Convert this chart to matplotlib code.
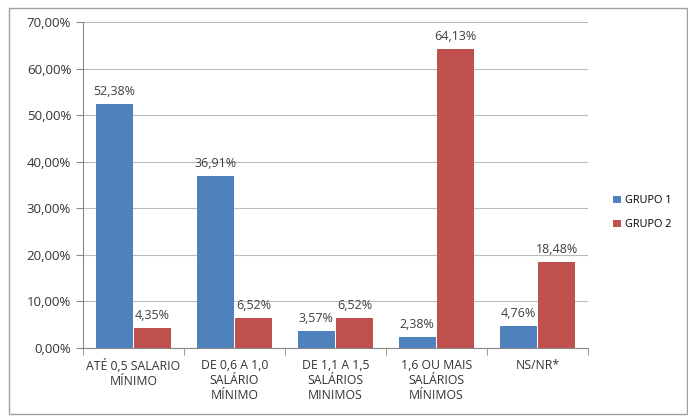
import matplotlib.pyplot as plt
from matplotlib.patches import Rectangle
from matplotlib.ticker import FuncFormatter
import numpy as np

categories = ['ATÉ 0,5 SALARIO\nMÍNIMO', 'DE 0,6 A 1,0\nSALÁRIO\nMÍNIMO',
              'DE 1,1 A 1,5\nSALÁRIOS\nMINIMOS', '1,6 OU MAIS\nSALÁRIOS\nMÍNIMOS', 'NS/NR*']
grupo1 = [52.38, 36.91, 3.57, 2.38, 4.76]
grupo2 = [4.35, 6.52, 6.52, 64.13, 18.48]

plt.rcParams['font.family'] = ['Open Sans', 'DejaVu Sans']
fig = plt.figure(figsize=(6.88, 4.16), dpi=100)
ax = fig.add_axes([0.1206, 0.1635, 0.7341, 0.7835])

x = np.arange(len(categories))
w = 0.37
b1 = ax.bar(x - 0.19, grupo1, w, color='#4F81BD', label='GRUPO 1')
b2 = ax.bar(x + 0.19, grupo2, w, color='#C0504D', label='GRUPO 2')

fmt = lambda v: ('%.2f' % v).replace('.', ',') + '%'
for bars, vals in ((b1, grupo1), (b2, grupo2)):
    for r, v in zip(bars, vals):
        ax.text(r.get_x() + r.get_width() / 2, v + 1.3, fmt(v),
                ha='center', va='bottom', fontsize=9, color='#404040')

ax.set_xlim(-0.5, len(categories) - 0.5)
ax.set_ylim(0, 70)
ax.set_yticks(range(0, 71, 10))
ax.yaxis.set_major_formatter(FuncFormatter(lambda v, p: fmt(v)))
ax.set_xticks(x)
ax.set_xticklabels(categories, fontsize=8.8, color='#333333', linespacing=1.2)
ax.set_xticks(np.arange(-0.5, len(categories)), minor=True)
ax.tick_params(axis='x', which='major', length=0, pad=8)
ax.tick_params(axis='x', which='minor', length=5, color='#888888')
ax.tick_params(axis='y', length=5, color='#888888', labelsize=9.5, labelcolor='#333333')
ax.grid(axis='y', color='#BBBBBB', linewidth=0.8)
ax.set_axisbelow(True)
for s in ['top', 'right']:
    ax.spines[s].set_visible(False)
for s in ['left', 'bottom']:
    ax.spines[s].set_color('#888888')

ax.legend(loc='center left', bbox_to_anchor=(1.03, 0.415), frameon=False,
          fontsize=7.8, handlelength=0.7, handleheight=0.7, handletextpad=0.4,
          labelspacing=1.2)

fig.patches.append(Rectangle((0.013, 0.005), 0.985, 0.975, transform=fig.transFigure,
                             fill=False, edgecolor='#A0A0A0', linewidth=1))

fig.savefig('out.png', dpi=100)
